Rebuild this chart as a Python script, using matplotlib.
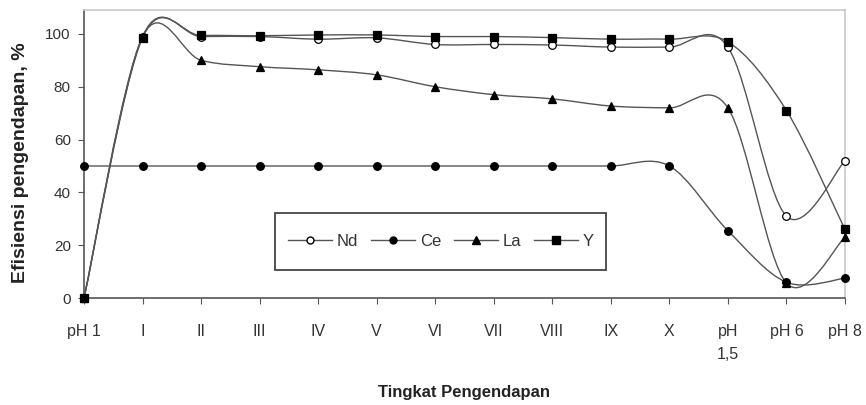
import numpy as np
import matplotlib
matplotlib.use("Agg")
import matplotlib.pyplot as plt
from matplotlib.path import Path
from matplotlib.patches import PathPatch, Rectangle
from matplotlib.lines import Line2D

plt.rcParams['font.family'] = ['Liberation Sans', 'DejaVu Sans']

# data
tahap = ['pH 1', 'I', 'II', 'III', 'IV', 'V', 'VI', 'VII', 'VIII', 'IX', 'X',
         'pH\n1,5', 'pH 6', 'pH 8']
nd = [0, 99, 99, 99, 98, 98.5, 96, 96, 95.8, 95, 95, 95, 31, 52]
ce = [50, 50, 50, 50, 50, 50, 50, 50, 50, 50, 50, 25.5, 6, 7.5]
la = [0, 99, 90, 87.6, 86.4, 84.5, 80, 77, 75.4, 72.7, 72, 72, 5.7, 23]
yy = [0, 98.6, 99.4, 99.3, 99.6, 99.6, 99, 99, 98.6, 98, 98, 97, 71, 26]

seri = [('Nd', nd, 'o', 'white'), ('Ce', ce, 'o', 'black'),
        ('La', la, '^', 'black'), ('Y', yy, 's', 'black')]


def kurva_halus(ax, xs, ys, warna, lw):
    # bezier smoothing like Excel "smoothed line"
    p = np.column_stack([xs, ys]).astype(float)
    n = len(p)
    verts = [p[0]]
    codes = [Path.MOVETO]
    for i in range(n - 1):
        p0 = p[i - 1] if i > 0 else p[i]
        p3 = p[i + 2] if i + 2 < n else p[i + 1]
        c1 = p[i] + (p[i + 1] - p0) / 6.0
        c2 = p[i + 1] - (p3 - p[i]) / 6.0
        verts += [c1, c2, p[i + 1]]
        codes += [Path.CURVE4] * 3
    ax.add_patch(PathPatch(Path(verts, codes), facecolor='none',
                           edgecolor=warna, lw=lw, clip_on=False, zorder=2))


def ukuran(mk):
    return 5.5 if mk == 'o' else 6


fig = plt.figure(figsize=(8.66, 4.05), dpi=100)
ax = fig.add_axes([0.097, 0.264, 0.8787, 0.711])

x = np.arange(len(tahap))
for nama, vals, mk, fc in seri:
    kurva_halus(ax, x, vals, '#555555', 1.0)
    ax.plot(x, vals, linestyle='none', marker=mk, markersize=ukuran(mk),
            markerfacecolor=fc, markeredgecolor='black', markeredgewidth=0.9,
            clip_on=False, zorder=3)

ax.set_xlim(0, len(tahap) - 1)
ax.set_ylim(0, 109)
ax.set_yticks([0, 20, 40, 60, 80, 100])
ax.set_xticks(x)
ax.set_xticklabels(tahap)
ax.tick_params(axis='both', labelcolor='#333333', color='#555555',
               direction='out', length=4.5)
ax.tick_params(axis='x', labelsize=11.5, pad=14)
ax.tick_params(axis='y', labelsize=11, pad=5)
for lbl in ax.get_xticklabels():
    lbl.set_linespacing(1.7)
    lbl.set_verticalalignment('top')

for s in ['top', 'right']:
    ax.spines[s].set_color('#c8c8c8')
    ax.spines[s].set_linewidth(1.2)
for s in ['left', 'bottom']:
    ax.spines[s].set_color('#555555')
    ax.spines[s].set_linewidth(1.2)

ax.set_ylabel('Efisiensi pengendapan, %', fontsize=14, fontweight='bold',
              color='#222222')
ax.yaxis.set_label_coords(-0.072, 0.47)
ax.set_xlabel('Tingkat Pengendapan', fontsize=12, fontweight='bold',
              color='#222222')
ax.xaxis.set_label_coords(0.5, -0.302)

# legend box
ax.add_patch(Rectangle((0.251, 0.097), 0.435, 0.198, transform=ax.transAxes,
                       facecolor='white', edgecolor='#444444', lw=1.3, zorder=4))
handles = [Line2D([], [], color='#555555', lw=1.0, marker=mk, markersize=ukuran(mk) - 0.5,
                  markerfacecolor=fc, markeredgecolor='black')
           for nama, vals, mk, fc in seri]
leg = ax.legend(handles, [s[0] for s in seri], ncol=4, fontsize=12,
                loc='center', bbox_to_anchor=(0.469, 0.196), frameon=False,
                handlelength=2.65, columnspacing=0.75, handletextpad=0.3,
                borderpad=0.2)
leg.set_zorder(5)
for t in leg.get_texts():
    t.set_color('#333333')

fig.savefig('out.png', dpi=100)
